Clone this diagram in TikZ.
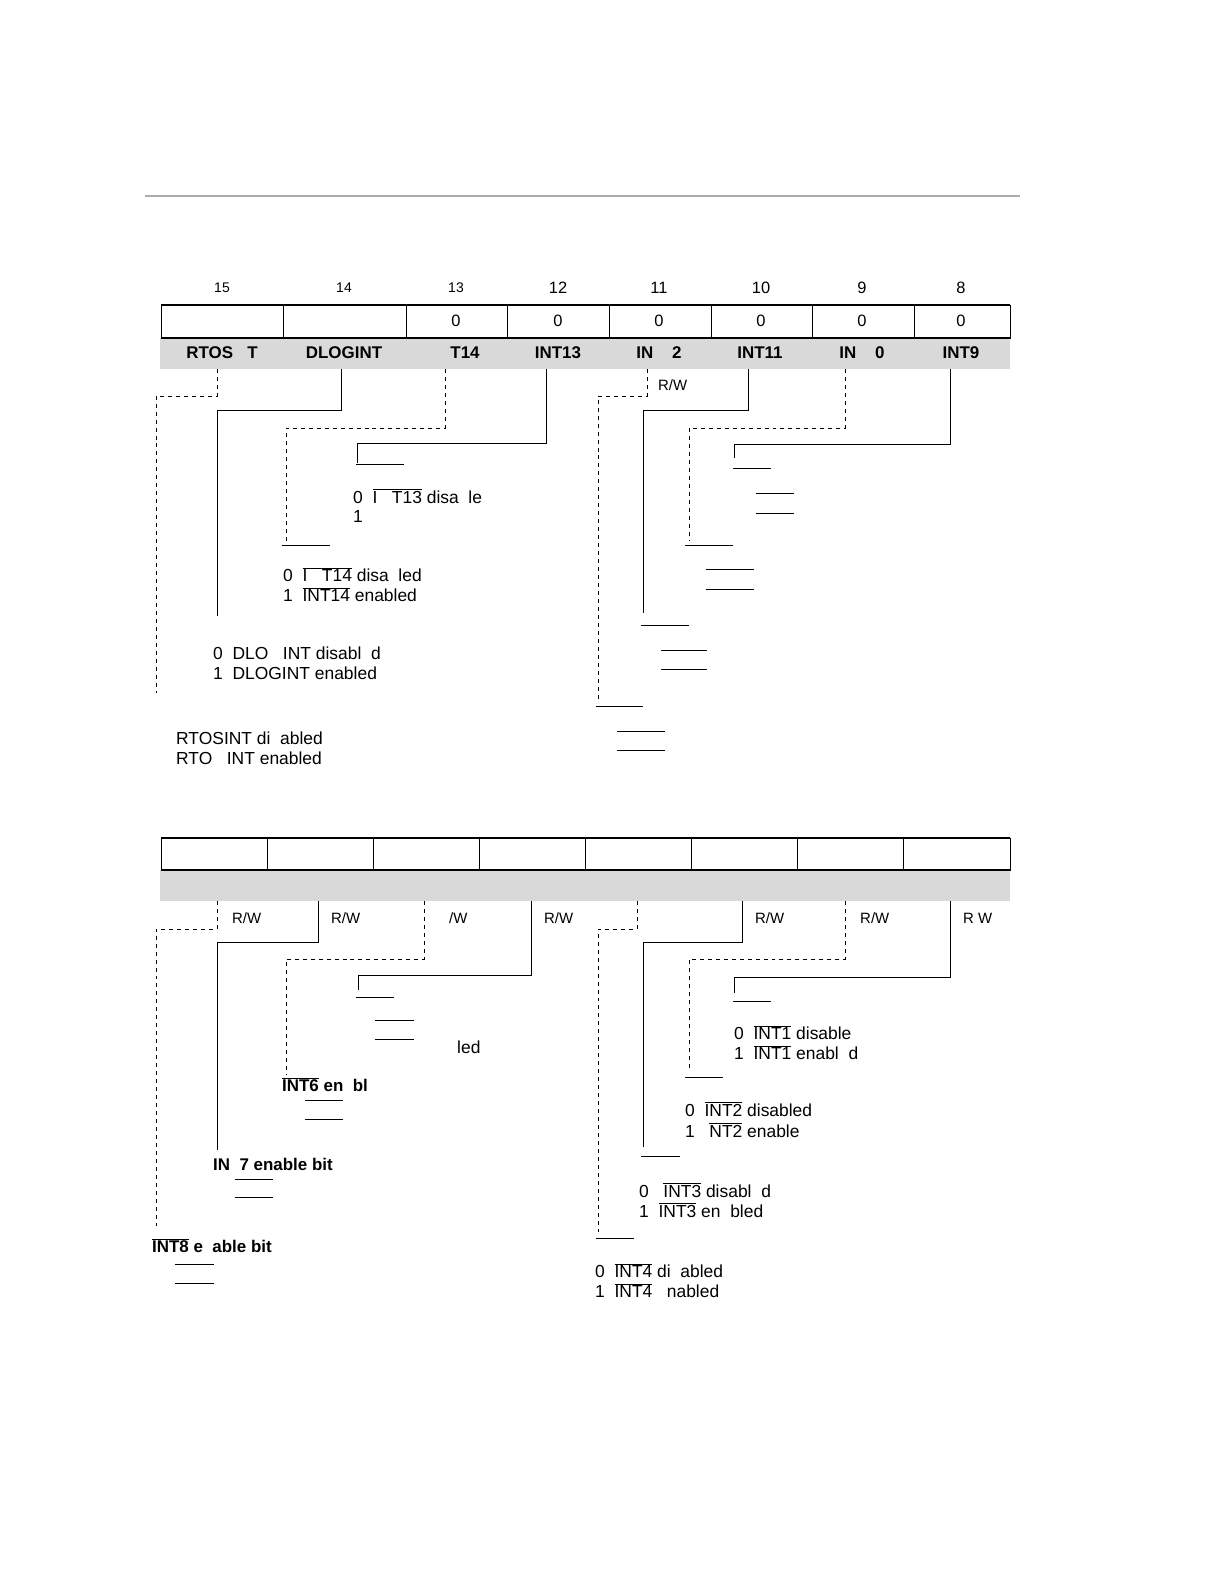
\documentclass[tikz,border=0pt]{standalone}
\usepackage{fontspec}
\setmainfont{Liberation Sans}
\newcommand{\olx}[1]{\ensuremath{\overline{\hbox{#1}}}}
\begin{document}
\begin{tikzpicture}[x=1bp,y=-1bp,
  lbl/.style={anchor=west,inner sep=0pt,font=\fontsize{17.5}{20}\selectfont},
  bl/.style={inner sep=0pt,font=\fontsize{17}{20}\selectfont\bfseries},
  num/.style={inner sep=0pt,font=\fontsize{16.5}{19}\selectfont},
  sm/.style={inner sep=0pt,font=\fontsize{14}{17}\selectfont},
  rw/.style={anchor=west,inner sep=0pt,font=\fontsize{15}{18}\selectfont},
  ld/.style={line width=0.9pt},
  dl/.style={line width=0.9pt,dash pattern=on 4pt off 4pt}]
\useasboundingbox (0,0) rectangle (1224,1584);
\draw[line width=3pt,gray!65] (145,196) -- (1020,196);
% top register
\fill[gray!30] (160,338) rectangle (1010,369);
\draw[line width=1pt] (161,305) rectangle (1010,338);
\draw[line width=2.2pt] (161,305) -- (1010,305) (161,338) -- (1010,338);
\foreach \x in {283,406,507,609,711,812,914} \draw[line width=1pt] (\x,305) -- (\x,338);
\foreach \x/\n in {222/15,344/14,456/13} \node[sm] (b\n) at (\x,288) {\n};
\foreach \x/\n in {558/12,659/11,761/10,862/9,961/8} \node[num] (b\n) at (\x,288) {\n};
\foreach \x/\n in {456/a,558/b,659/c,761/d,862/e,961/f} \node[num] (v\n) at (\x,321) {0};
\node[bl] (f15) at (222,353) {RTOS\ \ \ T};
\node[bl] (f14) at (344,353) {DLOGINT};
\node[bl] (f13) at (465,353) {T14};
\node[bl] (f12) at (558,353) {INT13};
\node[bl] (f11) at (659,353) {IN\ \ \ \ 2};
\node[bl] (f10) at (760,353) {INT11};
\node[bl] (f9) at (862,353) {IN\ \ \ \ 0};
\node[bl] (f8) at (961,353) {INT9};
\draw[dl] (217,369) -- (217,396) -- (156,396) -- (156,693);
\draw[ld] (341,369) -- (341,410) -- (217,410) -- (217,616);
\draw[dl] (445,369) -- (445,428) -- (286,428) -- (286,545);
\draw[ld] (282,545) -- (330,545);
\draw[ld] (546,369) -- (546,443) -- (357,443) -- (357,463);
\draw[ld] (356,464) -- (404,464);
\node[lbl] (t13a) at (353,496) {0\ \ \olx{I\ \ \ T13} disa\ \ le};
\node[lbl] (t13b) at (353,516) {1};
\node[lbl] (t14a) at (283,575) {0\ \ \olx{I\ \ \ T14} disa\ \ led};
\node[lbl] (t14b) at (283,595) {1\ \ \olx{INT14} enabled};
\node[lbl] (dla) at (213,653) {0\ \ DLO\ \ \ INT disabl\ \ d};
\node[lbl] (dlb) at (213,673) {1\ \ DLOGINT enabled};
\node[lbl] (rta) at (176,738) {RTOSINT di\ \ abled};
\node[lbl] (rtb) at (176,758) {RTO\ \ \ INT enabled};
\node[rw] (rw11) at (658,385) {R/W};
\draw[dl] (647,369) -- (647,396) -- (598,396) -- (598,700);
\draw[ld] (596,706) -- (643,706) (617,731) -- (665,731) (617,750) -- (665,750);
\draw[ld] (748,369) -- (748,410) -- (643,410) -- (643,613);
\draw[ld] (641,625) -- (689,625) (661,650) -- (707,650) (661,669) -- (707,669);
\draw[dl] (845,369) -- (845,428) -- (689,428) -- (689,540);
\draw[ld] (685,545) -- (733,545) (706,569) -- (754,569) (706,589) -- (754,589);
\draw[ld] (950,369) -- (950,444) -- (734,444) -- (734,458);
\draw[ld] (733,468) -- (771,468) (756,493) -- (794,493) (756,513) -- (794,513);
% bottom register
\fill[gray!30] (160,870) rectangle (1010,901);
\draw[line width=1pt] (161,838) rectangle (1010,870);
\draw[line width=2.2pt] (161,838) -- (1010,838) (161,870) -- (1010,870);
\foreach \x in {267,373,479,585,691,797,903} \draw[line width=1pt] (\x,838) -- (\x,870);
\foreach \x/\t/\n in {232/R\slash W/a,331/R\slash W/b,449/\slash W/c,544/R\slash W/d,755/R\slash W/e,860/R\slash W/f,963/R W/g}
  \node[rw] (rw\n) at (\x,918) {\t};
\draw[dl] (217,901) -- (217,929) -- (156,929) -- (156,1226);
\draw[ld] (318,901) -- (318,942) -- (217,942) -- (217,1150);
\draw[dl] (424,901) -- (424,959) -- (286,959) -- (286,1075);
\draw[ld] (531,901) -- (531,975) -- (358,975) -- (358,990);
\draw[ld] (356,997) -- (394,997) (375,1020) -- (414,1020) (375,1039) -- (414,1039);
\node[lbl] (led) at (457,1047) {led};
\node[lbl,font=\fontsize{17}{20}\selectfont\bfseries] (i6) at (282,1085) {\olx{INT6} en\ \ bl};
\draw[ld] (305,1100) -- (343,1100) (305,1119) -- (343,1119);
\node[lbl,font=\fontsize{17}{20}\selectfont\bfseries] (i7) at (213,1164) {IN\ \ 7 enable bit};
\draw[ld] (235,1179) -- (273,1179) (235,1197) -- (273,1197);
\node[lbl,font=\fontsize{17}{20}\selectfont\bfseries] (i8) at (152,1246) {\olx{INT8} e\ \ able bit};
\draw[ld] (175,1264) -- (214,1264) (175,1283) -- (214,1283);
\draw[dl] (637,901) -- (637,929) -- (598,929) -- (598,1232);
\draw[ld] (596,1238) -- (634,1238);
\draw[ld] (742,901) -- (742,942) -- (643,942) -- (643,1147);
\draw[ld] (641,1156) -- (680,1156);
\draw[dl] (845,901) -- (845,959) -- (689,959) -- (689,1070);
\draw[ld] (685,1077) -- (723,1077);
\draw[ld] (950,901) -- (950,977) -- (734,977) -- (734,993);
\draw[ld] (733,1001) -- (771,1001);
\node[lbl] (i1a) at (734,1033) {0\ \ \olx{INT1} disable};
\node[lbl] (i1b) at (734,1053) {1\ \ \olx{INT1} enabl\ \ d};
\node[lbl] (i2a) at (685,1109) {0\ \ \olx{INT2} disabled};
\node[lbl] (i2b) at (685,1130) {1\ \ \ \olx{NT2} enable};
\node[lbl] (i3a) at (639,1190) {0\ \ \ \olx{INT3} disabl\ \ d};
\node[lbl] (i3b) at (639,1210) {1\ \ \olx{INT3} en\ \ bled};
\node[lbl] (i4a) at (595,1271) {0\ \ \olx{INT4} di\ \ abled};
\node[lbl] (i4b) at (595,1291) {1\ \ \olx{INT4}\ \ \ nabled};
\end{tikzpicture}
\end{document}
